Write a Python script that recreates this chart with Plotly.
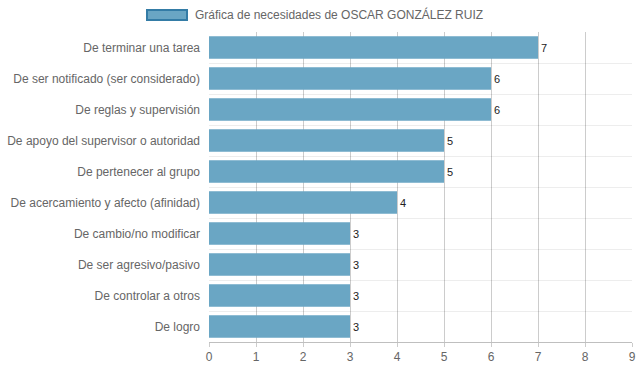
import plotly.graph_objects as go

categories = [
    "De terminar una tarea",
    "De ser notificado (ser considerado)",
    "De reglas y supervisión",
    "De apoyo del supervisor o autoridad",
    "De pertenecer al grupo",
    "De acercamiento y afecto (afinidad)",
    "De cambio/no modificar",
    "De ser agresivo/pasivo",
    "De controlar a otros",
    "De logro",
]
values = [7, 6, 6, 5, 5, 4, 3, 3, 3, 3]
series_name = "Gráfica de necesidades de OSCAR GONZÁLEZ RUIZ"
x_ticks = list(range(0, 10))

idx = list(range(len(categories)))
bar_color = "rgb(106,166,196)"
border_color = "rgb(52,124,166)"

W, H = 639, 372
L, R, T, B = 209, 7, 32, 30
PW, PH = W - L - R, H - T - B


def px_x(x):
    return (x - L) / PW


def px_y(y):
    return (H - B - y) / PH


fig = go.Figure()
fig.add_trace(go.Bar(
    x=values, y=idx, orientation="h",
    width=0.72,
    marker=dict(color=bar_color, line=dict(width=0)),
    text=[str(v) for v in values],
    textposition="outside",
    textfont=dict(family="Liberation Sans, Arial, sans-serif", size=11, color="#222"),
    cliponaxis=False,
    showlegend=False,
    hoverinfo="skip",
))

fig.update_layout(
    width=W, height=H,
    margin=dict(l=L, r=R, t=T, b=B, autoexpand=False),
    plot_bgcolor="white", paper_bgcolor="white",
    font=dict(family="Liberation Sans, Arial, sans-serif", size=12, color="#666"),
    xaxis=dict(
        range=[0, 9], tickvals=x_ticks, ticktext=[str(t) for t in x_ticks],
        showgrid=True, gridcolor="rgba(0,0,0,0.2)", gridwidth=1,
        layer="above traces", zeroline=False,
        showline=True, linecolor="rgba(0,0,0,0.25)", linewidth=1,
        ticks="outside", ticklen=4, tickcolor="rgba(0,0,0,0.2)",
        tickfont=dict(size=12, color="#666"), fixedrange=True,
        automargin=False,
    ),
    yaxis=dict(
        range=[len(categories) - 0.5, -0.5],
        tickvals=idx, ticktext=categories,
        showgrid=False, zeroline=False,
        ticks="", ticklabelstandoff=8,
        minor=dict(tickvals=[i - 0.5 for i in idx] + [len(categories) - 0.5],
                   showgrid=True, gridcolor="rgba(0,0,0,0.07)", gridwidth=1),
        tickfont=dict(size=12, color="#666"), fixedrange=True,
        automargin=False,
    ),
    shapes=[dict(
        type="rect", xref="paper", yref="paper",
        x0=px_x(147), x1=px_x(187),
        y0=px_y(20), y1=px_y(10),
        fillcolor=bar_color, line=dict(color=border_color, width=2),
        layer="above",
    )],
    annotations=[dict(
        xref="paper", yref="paper",
        x=px_x(193), y=px_y(15),
        xanchor="left", yanchor="middle",
        text=series_name, showarrow=False,
        font=dict(size=12, color="#666"),
    )],
)

fig.write_html(
    "out.html",
    config={"displayModeBar": False, "staticPlot": True},
    post_script=(
        "document.body.style.margin='0';"
        "document.body.style.overflow='hidden';"
        "document.documentElement.style.overflow='hidden';"
    ),
)
